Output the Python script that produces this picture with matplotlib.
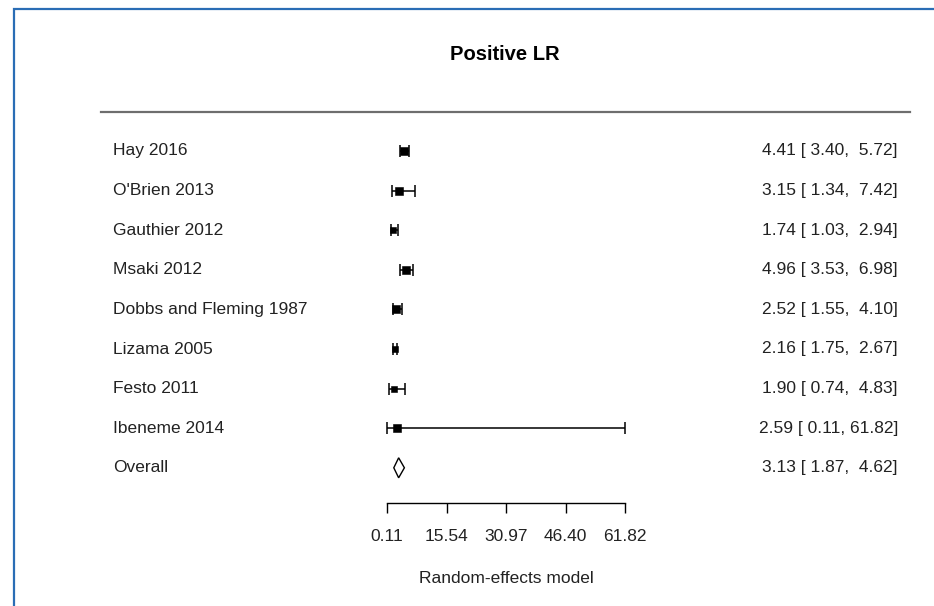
import matplotlib
matplotlib.use("Agg")
import matplotlib.pyplot as plt
from matplotlib.patches import Polygon, Rectangle
from matplotlib.lines import Line2D
from matplotlib.transforms import blended_transform_factory

plt.rcParams['font.family'] = ['Liberation Sans', 'DejaVu Sans']

# data
studies = ["Hay 2016", "O'Brien 2013", "Gauthier 2012", "Msaki 2012",
           "Dobbs and Fleming 1987", "Lizama 2005", "Festo 2011", "Ibeneme 2014"]
est = [4.41, 3.15, 1.74, 4.96, 2.52, 2.16, 1.90, 2.59]
ci_lo = [3.40, 1.34, 1.03, 3.53, 1.55, 1.75, 0.74, 0.11]
ci_hi = [5.72, 7.42, 2.94, 6.98, 4.10, 2.67, 4.83, 61.82]
overall = (3.13, 1.87, 4.62)
xticks = [0.11, 15.54, 30.97, 46.40, 61.82]

# box sizes in pixels (study weights, as drawn)
box_px = [8, 8, 7, 8, 8, 7, 7, 8]

W, H = 934, 606
DPI = 100
fig = plt.figure(figsize=(W / DPI, H / DPI), dpi=DPI)

# -------------------------------
# layout (pixels)
# -------------------------------
row0, row_step = 151, 39.6
x_left_px, x_right_px = 387, 625
axis_row = (503 - row0) / row_step

def px2row(p):
    return (p - row0) / row_step

ax = fig.add_axes([x_left_px / W, 0, (x_right_px - x_left_px) / W, 1])
ax.set_xlim(xticks[0], xticks[-1])
ax.set_ylim(px2row(H), px2row(0))
ax.patch.set_alpha(0)
for s in ['top', 'left', 'right']:
    ax.spines[s].set_visible(False)
ax.spines['bottom'].set_position(('data', axis_row))
ax.spines['bottom'].set_bounds(xticks[0], xticks[-1])
ax.spines['bottom'].set_linewidth(1.0)
ax.set_yticks([])
ax.set_xticks(xticks)
ax.set_xticklabels([f"{t:.2f}" for t in xticks])
ax.tick_params(axis='x', direction='out', length=7.2, width=1.0, pad=11.5,
               labelsize=12.5, colors='black', labelcolor='#222222')
ax.set_xlabel("Random-effects model", fontsize=12.5, color='#222222', labelpad=19.5)

# -------------------------------
# study rows
# -------------------------------
rows = list(range(len(studies)))
for i in rows:
    ax.errorbar(est[i], i, xerr=[[est[i] - ci_lo[i]], [ci_hi[i] - est[i]]],
                fmt='none', ecolor='black', elinewidth=1.1,
                capsize=4.4, capthick=1.1, clip_on=False)
    ax.plot(est[i], i, 's', color='black', ms=box_px[i] * 72 / DPI - 0.4,
            mew=0.4, clip_on=False, zorder=3)

# overall diamond
o_est, o_lo, o_hi = overall
r = len(studies)
h = 10 / row_step
ax.add_patch(Polygon([(o_lo, r), (o_est, r - h), (o_hi, r), (o_est, r + h)],
                     closed=True, facecolor='white', edgecolor='black',
                     linewidth=1.0, clip_on=False))

# -------------------------------
# text columns
# -------------------------------
trans = blended_transform_factory(fig.transFigure, ax.transData)
labels = studies + ["Overall"]
all_est = est + [o_est]
all_lo = ci_lo + [o_lo]
all_hi = ci_hi + [o_hi]
for i, lab in enumerate(labels):
    ax.text(113 / W, i, lab, transform=trans, ha='left', va='center',
            fontsize=12.5, color='#222222')
    ax.text(898 / W, i, f"{all_est[i]:.2f} [{all_lo[i]:5.2f}, {all_hi[i]:5.2f}]",
            transform=trans, ha='right', va='center', fontsize=12.5, color='#222222')

# title and header rule
fig.text(505 / W, 1 - 54 / H, "Positive LR", ha='center', va='center',
         fontsize=14.5, fontweight='bold', color='black')
fig.add_artist(Line2D([101 / W, 910 / W], [1 - 112 / H, 1 - 112 / H],
                      color='#6e6e6e', linewidth=1.6, transform=fig.transFigure))

# blue frame
fig.add_artist(Rectangle((14 / W, -0.1), 1.2, 1 - 9 / H + 0.1, fill=False,
                         edgecolor='#2a6db5', linewidth=1.6,
                         transform=fig.transFigure))

fig.savefig("out.png", dpi=DPI)
